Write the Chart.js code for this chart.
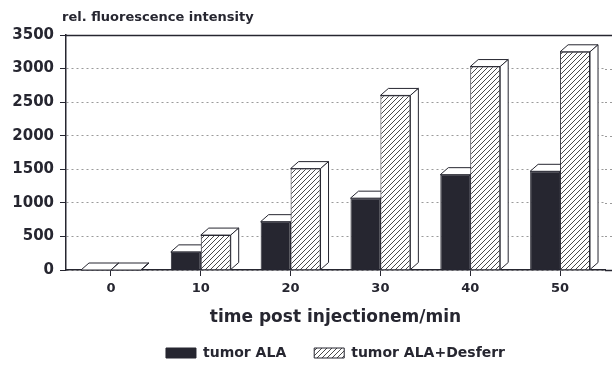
<!DOCTYPE html>
<html>
<head>
<meta charset="utf-8">
<script src="https://cdn.jsdelivr.net/npm/chart.js@4/dist/chart.umd.min.js"></script>
<style>
  html, body { margin: 0; padding: 0; background: #fff; }
</style>
</head>
<body>
<canvas id="chart" width="612" height="366"></canvas>
<script>
const timeLabels = ['0', '10', '20', '30', '40', '50'];
const tumorAla = [0, 270, 720, 1070, 1420, 1470];
const tumorAlaDesferr = [0, 520, 1510, 2600, 3030, 3250];
const yMax = 3500;
const yStep = 500;

const ink = '#262630';

// diagonal hatch for the second series
function makeHatch() {
  const c = document.createElement('canvas');
  c.width = 5; c.height = 5;
  const g = c.getContext('2d');
  g.fillStyle = '#fff';
  g.fillRect(0, 0, 5, 5);
  g.strokeStyle = '#4a4a4a';
  g.lineWidth = 1;
  g.beginPath();
  g.moveTo(0, 5); g.lineTo(5, 0);
  g.moveTo(-1, 1); g.lineTo(1, -1);
  g.moveTo(4, 6); g.lineTo(6, 4);
  g.stroke();
  return g.createPattern(c, 'repeat');
}

// white top and side faces behind each bar, plus the frame lines
const depthFaces = {
  id: 'depthFaces',
  beforeDatasetsDraw(chart) {
    const ctx = chart.ctx;
    const area = chart.chartArea;
    const yScale = chart.scales.y;
    const dx = 8, dy = 7;

    ctx.save();
    ctx.strokeStyle = '#9a9a9a';
    ctx.lineWidth = 1;
    ctx.setLineDash([2, 3]);
    yScale.ticks.forEach(t => {
      const py = Math.round(yScale.getPixelForValue(t.value)) + 0.5;
      ctx.beginPath();
      ctx.moveTo(area.right, py);
      ctx.lineTo(chart.width, py);
      ctx.stroke();
    });
    ctx.setLineDash([]);
    ctx.strokeStyle = ink;
    ctx.lineWidth = 1.5;
    const topY = Math.round(yScale.getPixelForValue(yMax)) + 0.5;
    ctx.beginPath();
    ctx.moveTo(area.left, topY);
    ctx.lineTo(chart.width, topY);
    ctx.stroke();
    const zeroY = Math.round(yScale.getPixelForValue(0)) + 0.5;
    ctx.beginPath();
    ctx.moveTo(area.right, zeroY);
    ctx.lineTo(chart.width, zeroY);
    ctx.stroke();

    ctx.lineWidth = 1;
    ctx.fillStyle = '#fff';
    chart.data.datasets.forEach((ds, i) => {
      chart.getDatasetMeta(i).data.forEach(bar => {
        const p = bar.getProps(['x', 'y', 'base', 'width'], true);
        const l = p.x - p.width / 2;
        const r = p.x + p.width / 2;
        ctx.beginPath();
        ctx.moveTo(l, p.y);
        ctx.lineTo(l + dx, p.y - dy);
        ctx.lineTo(r + dx, p.y - dy);
        ctx.lineTo(r, p.y);
        ctx.closePath();
        ctx.fill();
        ctx.stroke();
        ctx.beginPath();
        ctx.moveTo(r, p.y);
        ctx.lineTo(r + dx, p.y - dy);
        ctx.lineTo(r + dx, p.base - dy);
        ctx.lineTo(r, p.base);
        ctx.closePath();
        ctx.fill();
        ctx.stroke();
      });
    });
    ctx.restore();
  },
  afterDraw(chart) {
    const ctx = chart.ctx;
    ctx.save();
    ctx.fillStyle = ink;
    ctx.font = "bold 13px 'DejaVu Sans', sans-serif";
    ctx.textAlign = 'left';
    ctx.textBaseline = 'middle';
    ctx.fillText('rel. fluorescence intensity', chart.chartArea.left - 4, 18);
    ctx.restore();
  }
};

Chart.defaults.font.family = "'DejaVu Sans', sans-serif";
Chart.defaults.font.weight = 'bold';
Chart.defaults.color = ink;

new Chart(document.getElementById('chart'), {
  type: 'bar',
  data: {
    labels: timeLabels,
    datasets: [
      {
        label: 'tumor ALA',
        data: tumorAla,
        backgroundColor: ink,
        borderColor: ink,
        borderWidth: 1
      },
      {
        label: 'tumor ALA+Desferr',
        data: tumorAlaDesferr,
        backgroundColor: makeHatch(),
        borderColor: ink,
        borderWidth: 1
      }
    ]
  },
  options: {
    responsive: false,
    animation: false,
    layout: { padding: { top: 35, right: 7, bottom: -4, left: 0 } },
    datasets: {
      bar: { categoryPercentage: 2 / 3, barPercentage: 1 }
    },
    scales: {
      x: {
        afterFit: s => { s.height = 48; },
        grid: {
          offset: false,
          drawOnChartArea: false,
          drawTicks: true,
          tickLength: 6,
          tickColor: ink
        },
        border: { color: ink, width: 1.5 },
        ticks: { font: { size: 13 }, padding: 5 },
        title: {
          display: true,
          text: 'time post injectionem/min',
          font: { size: 17, weight: 'bold' },
          padding: { top: 6, bottom: -10 }
        }
      },
      y: {
        min: 0,
        max: yMax,
        afterFit: s => { s.width = 66; },
        grid: {
          color: '#9a9a9a',
          tickColor: ink,
          tickLength: 6,
          tickBorderDash: []
        },
        border: { color: ink, width: 1.5, dash: [2, 3] },
        ticks: {
          stepSize: yStep,
          font: { size: 15 },
          padding: 6,
          callback: v => String(v)
        }
      }
    },
    plugins: {
      legend: {
        position: 'bottom',
        fullSize: false,
        labels: {
          boxWidth: 30,
          boxHeight: 10,
          padding: 28,
          font: { size: 14 }
        }
      },
      tooltip: { enabled: false }
    }
  },
  plugins: [depthFaces]
});
</script>
</body>
</html>
